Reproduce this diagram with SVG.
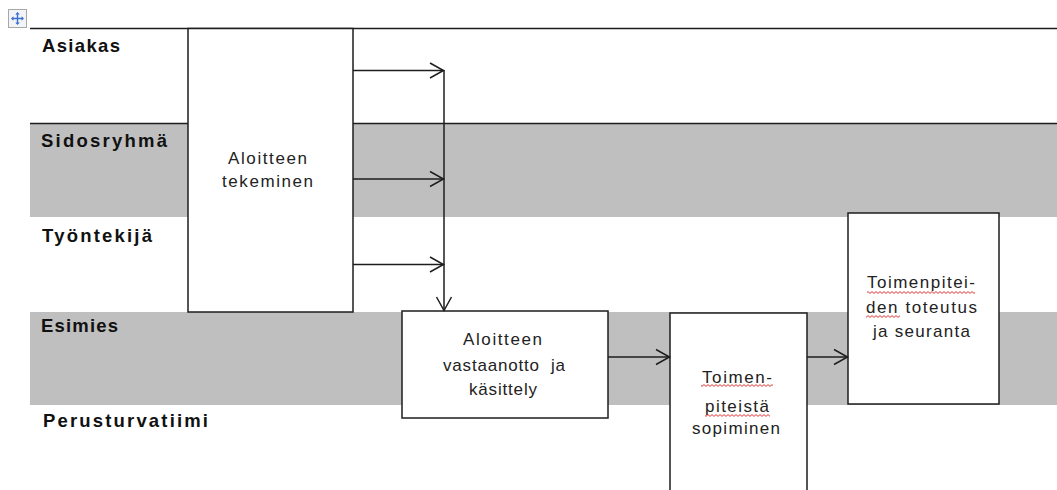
<svg xmlns="http://www.w3.org/2000/svg" width="1057" height="490" viewBox="0 0 1057 490">
<style>
.lane{fill:#bfbfbf}
.ln{stroke:#1e1e1e;stroke-width:1.5;fill:none}
.box{fill:#fff;stroke:#1e1e1e;stroke-width:1.5}
.lbl{font-family:"Liberation Sans",Arial,sans-serif;font-weight:bold;font-size:18.5px;fill:#111}
.txt{font-family:"Liberation Sans",Arial,sans-serif;font-size:17px;fill:#222;text-anchor:middle}
.sq{fill:url(#squig)}
</style>
<defs>
<marker id="arr" markerUnits="userSpaceOnUse" viewBox="0 0 16 18" markerWidth="16" markerHeight="18" refX="14.5" refY="9" orient="auto" overflow="visible">
<path d="M1,1.5 L14.5,9 L1,16.5" fill="none" stroke="#1e1e1e" stroke-width="1.5"/>
</marker>
<pattern id="squig" width="4" height="3" patternUnits="userSpaceOnUse">
<path d="M0,0.6 L2,2.4 L4,0.6" fill="none" stroke="#e02020" stroke-width="0.9"/>
</pattern>
</defs>

<!-- move handle icon -->
<g id="handle">
<rect x="8.5" y="9.5" width="18" height="18" fill="#f2f4f8" stroke="#a8a8a8" stroke-width="1"/>
<path d="M17.5,13 V24 M12,18.5 H23" stroke="#3a6fd0" stroke-width="1.4"/>
<path d="M17.5,12 l-2.2,2.4 h4.4z M17.5,25 l-2.2,-2.4 h4.4z M11,18.5 l2.4,-2.2 v4.4z M24,18.5 l-2.4,-2.2 v4.4z" fill="#3a6fd0"/>
</g>

<!-- swimlanes -->
<g id="lane-asiakas">
<line class="ln" x1="30" y1="28.5" x2="1057" y2="28.5"/>
<text class="lbl" x="42" y="52" textLength="78" lengthAdjust="spacing">Asiakas</text>
</g>
<g id="lane-sidosryhma">
<rect class="lane" x="30" y="123" width="1027" height="94"/>
<line class="ln" x1="30" y1="123.5" x2="1057" y2="123.5"/>
<text class="lbl" x="41" y="147" textLength="126" lengthAdjust="spacing">Sidosryhmä</text>
</g>
<g id="lane-tyontekija">
<text class="lbl" x="42" y="242" textLength="110" lengthAdjust="spacing">Työntekijä</text>
</g>
<g id="lane-esimies">
<rect class="lane" x="30" y="312" width="1027" height="93"/>
<text class="lbl" x="41" y="332" textLength="77" lengthAdjust="spacing">Esimies</text>
</g>
<g id="lane-perusturvatiimi">
<text class="lbl" x="43" y="427" textLength="165" lengthAdjust="spacing">Perusturvatiimi</text>
</g>

<!-- nodes -->
<g id="node-aloitteen-tekeminen">
<rect class="box" x="188" y="28.5" width="165" height="283.5"/>
<text class="txt" x="267.5" y="164" textLength="79" lengthAdjust="spacing">Aloitteen</text>
<text class="txt" x="267.5" y="187" textLength="91" lengthAdjust="spacing">tekeminen</text>
</g>
<g id="node-vastaanotto">
<rect class="box" x="402" y="311" width="206" height="107"/>
<text class="txt" x="502.5" y="345" textLength="79" lengthAdjust="spacing">Aloitteen</text>
<text class="txt" x="504" y="371" textLength="122" lengthAdjust="spacing" xml:space="preserve">vastaanotto  ja</text>
<text class="txt" x="503" y="395" textLength="68" lengthAdjust="spacing">käsittely</text>
</g>
<g id="node-sopiminen">
<rect class="box" x="670" y="313" width="137" height="190"/>
<text class="txt" x="737" y="383" textLength="70" lengthAdjust="spacing">Toimen-</text>
<text class="txt" x="737" y="412" textLength="64" lengthAdjust="spacing">piteistä</text>
<text class="txt" x="736" y="434" textLength="88" lengthAdjust="spacing">sopiminen</text>
<rect class="sq" x="701" y="384" width="72" height="3"/>
<rect class="sq" x="705" y="414" width="65" height="3"/>
</g>
<g id="node-toteutus">
<rect class="box" x="848" y="213" width="151" height="191"/>
<text class="txt" x="921" y="288" textLength="108" lengthAdjust="spacing">Toimenpitei-</text>
<text class="txt" x="921.5" y="313" textLength="111" lengthAdjust="spacing">den toteutus</text>
<text class="txt" x="921.5" y="337" textLength="97" lengthAdjust="spacing">ja seuranta</text>
<rect class="sq" x="867" y="291" width="108" height="3"/>
<rect class="sq" x="866" y="315" width="34" height="3"/>
</g>

<!-- connectors -->
<g id="connectors">
<line class="ln" x1="353" y1="70.5" x2="443.5" y2="70.5" marker-end="url(#arr)"/>
<line class="ln" x1="353" y1="179" x2="443.5" y2="179" marker-end="url(#arr)"/>
<line class="ln" x1="353" y1="264.5" x2="443.5" y2="264.5" marker-end="url(#arr)"/>
<line class="ln" x1="444" y1="70" x2="444" y2="310.5" marker-end="url(#arr)"/>
<line class="ln" x1="608" y1="357" x2="669.5" y2="357" marker-end="url(#arr)"/>
<line class="ln" x1="807" y1="357" x2="847.5" y2="357" marker-end="url(#arr)"/>
</g>
</svg>
